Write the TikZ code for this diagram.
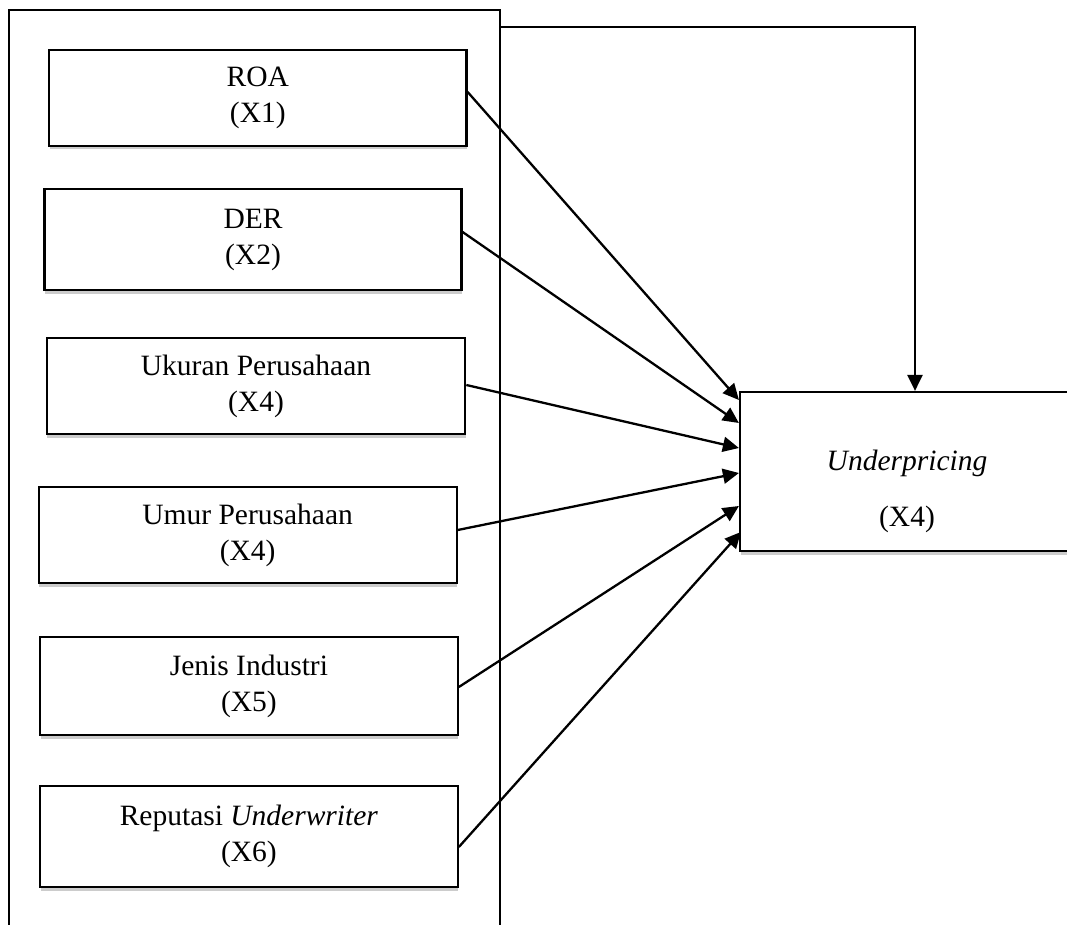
\documentclass[tikz,border=0pt]{standalone}
\usepackage{fontspec}
\setmainfont{Liberation Serif}
\usetikzlibrary{arrows.meta,shadows,calc}
\begin{document}
\begin{tikzpicture}[x=1pt,y=-1pt,
  txt/.style={font=\fontsize{29.5}{36}\selectfont},
  varbox/.style={draw=black,line width=2.2pt,fill=white,inner sep=0pt,align=center,txt,
    drop shadow={shadow xshift=0.5pt,shadow yshift=-3.5pt,fill=black!20,opacity=1}},
  frame/.style={draw=black,line width=1.9pt},
  link/.style={draw=black,line width=2.3pt,-{Triangle[length=16pt,width=15pt]}}]
\useasboundingbox (0,0) rectangle (1067,925);
\clip (0,0) rectangle (1067,925);
\fill[white] (0,0) rectangle (1067,925);
% outer frame (open at the bottom)
\draw[frame] (9,940) -- (9,10) -- (500,10) -- (500,940);
\coordinate (fb) at (500,27);
% independent variables
\node[varbox,minimum width=417.5pt,minimum height=96pt] (roa) at (257.8,98) {ROA\\(X1)};
\node[varbox,minimum width=417pt,minimum height=101pt] (der) at (253,239.5) {DER\\(X2)};
\node[varbox,minimum width=418.5pt,minimum height=96pt] (uk) at (256,386) {Ukuran Perusahaan\\(X4)};
\node[varbox,minimum width=418pt,minimum height=96pt] (um) at (247.6,535) {Umur Perusahaan\\(X4)};
\node[varbox,minimum width=417.7pt,minimum height=98pt] (ji) at (248.9,686) {Jenis Industri\\(X5)};
\node[varbox,minimum width=417.7pt,minimum height=101pt] (ru) at (248.9,836.5) {Reputasi \textit{Underwriter}\\(X6)};
% dependent variable
\node[varbox,minimum width=334pt,minimum height=159pt] (up) at (907,471.5) {};
\node[txt,align=center,inner sep=0pt] (uptext) at ($(up.center)+(0,19.5)$) {\textit{Underpricing}\\[20pt](X4)};
% connectors
\draw[link] ([yshift=6pt]roa.east) -- ([yshift=71.5pt]up.west);
\draw[link] ([yshift=7.5pt]der.east) -- ([yshift=48.5pt]up.west);
\draw[link] ([yshift=1pt]uk.east) -- ([yshift=23.5pt]up.west);
\draw[link] ([yshift=5pt]um.east) -- ([yshift=-1.5pt]up.west);
\draw[link] ([yshift=-1pt]ji.east) -- ([yshift=-34.5pt]up.west);
\draw[link] ([yshift=-10.5pt]ru.east) -- ([yshift=-60.5pt,xshift=2pt]up.west);
\draw[link] (fb) -| ([xshift=8pt]up.north);
\end{tikzpicture}
\end{document}
